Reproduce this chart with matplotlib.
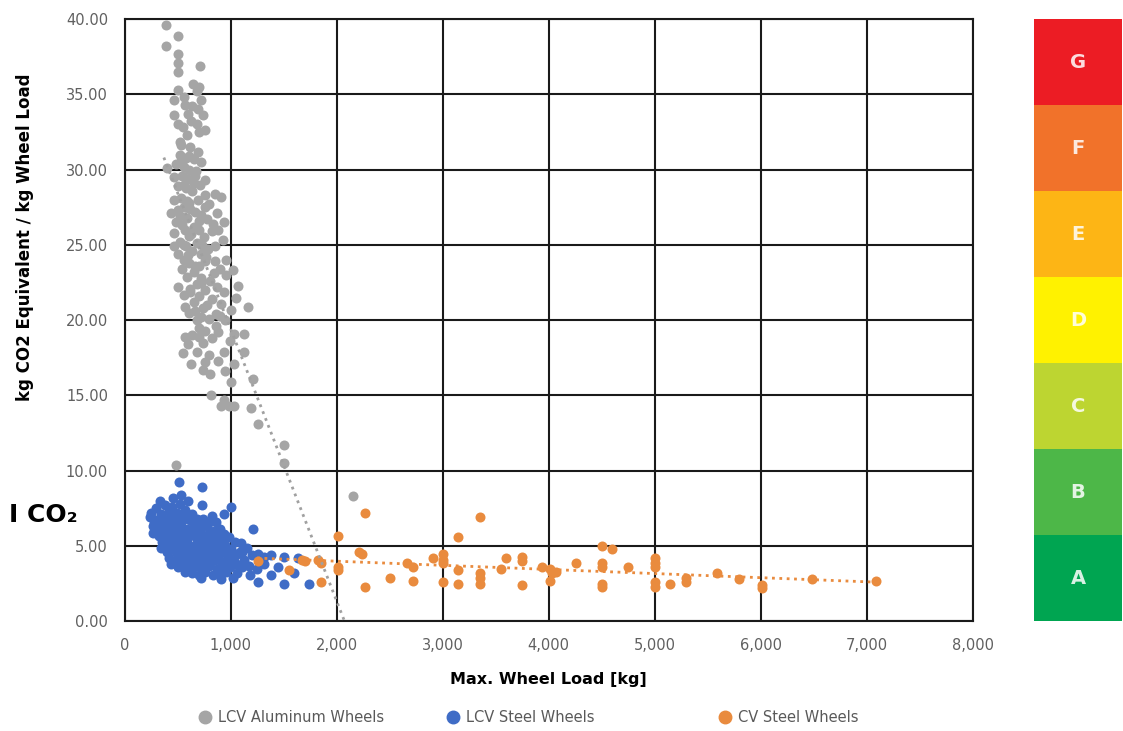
import matplotlib
matplotlib.use('Agg')
import matplotlib.pyplot as plt
from matplotlib.lines import Line2D
from matplotlib.ticker import FuncFormatter

# LCV aluminum wheels
alu_x = [390, 500, 390, 500, 500, 715, 500,
         645, 705, 680, 500, 470, 560, 720, 565, 640, 690, 470, 600, 735, 500, 630, 680, 555, 755,
         700, 590, 520, 535, 620, 690, 518, 580, 650, 480, 720, 400, 560, 610,
         470, 540, 600, 660, 755, 710, 500, 580, 640, 848, 910, 760, 470, 530, 690, 610, 800, 560,
         440, 500, 660, 720, 870, 590, 780, 940, 480, 540, 650, 700, 565, 820, 470, 610, 750, 925,
         520, 680, 850, 580, 470, 640, 720, 790, 502,
         848, 560, 610, 700, 760, 1020, 540, 650, 900, 960, 590, 720, 810, 680, 1068, 502, 620, 760,
         870, 940, 560, 700, 820, 650, 911, 1162, 565, 740, 1000, 610, 860, 722, 680, 800, 950,
         565, 700, 760, 1036, 1130, 640, 880, 820, 600, 740, 990, 942, 1130, 550, 680, 800, 628,
         1036, 880, 738, 801, 950, 1209, 1000, 816, 942, 911, 989, 1036, 1193,
         1256, 1507, 1507, 487, 2150,
         530, 610, 670, 560, 650, 590, 520, 620, 700, 760, 830, 560, 630, 730, 880, 600, 660, 770,
         960, 620, 720, 840, 1050, 660, 780, 900, 700, 860, 760]
alu_y = [39.6, 38.9, 38.2, 37.7, 37.1, 36.9, 36.5,
         35.7, 35.5, 35.2, 35.3, 34.6, 34.8, 34.6, 34.3, 34.2, 34.0, 33.6, 33.7, 33.6, 33.0, 33.2, 33.0, 32.8, 32.6,
         32.5, 32.3, 31.8, 31.6, 31.5, 31.2, 31.0, 30.8, 30.7, 30.4, 30.5, 30.1, 30.2, 30.0,
         29.5, 29.6, 29.4, 29.6, 29.3, 29.0, 28.9, 28.8, 28.6, 28.4, 28.2, 28.3, 28.0, 28.1, 28.0, 27.8, 27.7, 27.5,
         27.1, 27.3, 27.2, 27.0, 27.1, 26.8, 26.7, 26.5, 26.5, 26.3, 26.2, 26.0, 26.0, 25.9, 25.8, 25.6, 25.5, 25.3,
         25.2, 25.1, 24.9, 24.9, 24.9, 24.6, 24.4, 24.7, 24.4,
         23.9, 24.0, 23.8, 23.6, 23.9, 23.3, 23.4, 23.2, 23.4, 23.0, 22.9, 22.8, 22.6, 22.4, 22.3, 22.2, 22.1, 22.0,
         22.2, 21.9, 21.7, 21.6, 21.4, 21.2, 21.1, 20.9, 20.9, 20.8, 20.7, 20.5, 20.4, 20.2, 20.0, 20.1, 20.0,
         18.9, 19.5, 19.3, 19.1, 19.1, 19.0, 19.2, 18.8, 18.4, 18.5, 18.6, 17.9, 17.9, 17.8, 17.9, 17.7, 17.1,
         17.1, 17.3, 16.7, 16.4, 16.6, 16.1, 15.9, 15.0, 14.7, 14.3, 14.3, 14.3, 14.2,
         13.1, 11.7, 10.5, 10.4, 8.3,
         30.6, 30.9, 29.9, 29.0, 29.1, 27.9, 26.9, 27.4, 26.6, 27.5, 26.4, 25.0, 25.7, 25.0, 26.0, 24.3, 23.6, 24.2,
         24.0, 21.9, 22.5, 23.1, 21.5, 20.6, 21.0, 20.3, 18.9, 19.6, 17.2]

# LCV steel wheels
lcv_x = [509, 729, 534, 330, 460, 600,
         300, 380, 450, 520, 729, 1005, 250, 340, 420, 490, 570, 640, 942, 820,
         236, 300, 360, 430, 500, 560, 620, 680, 740, 860, 270, 330, 400, 460, 530, 590, 650, 710, 780, 900, 1209, 840,
         267, 320, 380, 440, 500, 560, 620, 680, 740, 800, 860, 920, 980, 1040, 350, 410, 470, 530, 590, 650, 710,
         770, 830, 890, 950, 1099, 1150,
         345, 400, 460, 520, 580, 640, 700, 760, 820, 880, 940, 1000, 1060, 1130, 1200, 1256, 1319, 1382, 1507, 1633,
         420, 480, 540, 600, 660, 720, 780, 850, 910, 970, 1030,
         440, 500, 560, 620, 680, 740, 800, 870, 930, 990, 1050, 1110, 1170, 1319, 1250, 565, 640, 700, 760, 830,
         900, 960, 1060, 1180, 1382, 1450,
         722, 911, 1020, 1256, 1507, 1743, 1600,
         280, 350, 410, 470, 540, 610, 680, 300, 370, 440, 510, 580, 650, 720, 790, 380, 450, 520, 590, 660,
         730, 800, 870, 940, 480, 550, 620, 690, 760, 830, 900, 970, 1090, 530, 600, 670, 740, 810, 1000, 1110,
         600, 670, 740, 810]
lcv_y = [9.25, 8.9, 8.4, 8.0, 8.2, 8.0,
         7.5, 7.7, 7.6, 7.8, 7.7, 7.6, 7.2, 7.1, 7.3, 7.2, 7.4, 7.1, 7.1, 7.0,
         6.9, 6.7, 6.8, 6.9, 6.6, 6.8, 6.7, 6.5, 6.8, 6.6, 6.3, 6.2, 6.4, 6.2, 6.3, 6.1, 6.2, 6.0, 6.3, 6.1, 6.1, 6.0,
         5.9, 5.7, 5.8, 5.6, 5.9, 5.6, 5.8, 5.5, 5.7, 5.5, 5.8, 5.4, 5.6, 5.3, 5.3, 5.1, 5.3, 5.1, 5.3, 5.0, 5.2,
         5.0, 5.2, 5.0, 5.1, 5.2, 4.9,
         4.9, 4.6, 4.8, 4.5, 4.7, 4.4, 4.6, 4.3, 4.7, 4.4, 4.6, 4.3, 4.5, 4.1, 4.4, 4.5, 4.3, 4.4, 4.3, 4.2,
         4.2, 4.1, 4.0, 4.2, 4.0, 4.1, 4.0, 4.1, 4.0, 4.1, 4.0,
         3.8, 3.6, 3.7, 3.5, 3.7, 3.5, 3.7, 3.5, 3.7, 3.6, 3.8, 3.6, 3.7, 3.8, 3.5, 3.3, 3.2, 3.1, 3.3, 3.1,
         3.2, 3.3, 3.2, 3.1, 3.1, 3.6,
         2.9, 2.8, 2.9, 2.6, 2.5, 2.5, 3.2,
         6.5, 6.5, 6.6, 6.7, 7.0, 6.9, 6.8, 6.0, 6.0, 6.1, 6.0, 6.0, 6.5, 6.3, 6.5, 5.4, 5.5, 5.4, 5.5, 5.7,
         5.5, 5.9, 5.4, 5.8, 4.6, 4.8, 4.8, 4.9, 4.8, 4.6, 4.8, 4.7, 4.6, 4.3, 4.5, 4.3, 4.5, 4.4, 4.8, 4.6,
         3.9, 3.8, 3.9, 3.9]

# CV steel wheels
cv_x = [1256, 1555, 1670, 1700, 1821, 1855, 1855, 2010, 2010, 2010, 2215, 2240, 2265, 2265, 2500, 2660, 2720,
        2720, 2905, 3000, 3000, 3000, 3000, 3150, 3150, 3150, 3350, 3350, 3350, 3350, 3555, 3600, 3750,
        3750, 3750, 3940, 4010, 4030, 4070, 4010, 4260, 4500, 4600, 4500, 4500, 4500, 4500, 4745, 5005,
        5005, 5005, 5005, 5005, 5150, 5300, 5300, 5590, 5800, 6010, 6010, 6490, 7090]
cv_y = [4.0, 3.4, 4.1, 4.0, 4.1, 3.9, 2.6, 5.7, 3.6, 3.4, 4.6, 4.5, 7.2, 2.3, 2.9, 3.85, 3.6,
        2.7, 4.2, 4.5, 4.1, 3.9, 2.6, 5.6, 3.4, 2.5, 6.9, 3.2, 2.9, 2.5, 3.5, 4.2, 4.3,
        4.0, 2.4, 3.6, 3.5, 3.2, 3.3, 2.7, 3.9, 5.0, 4.8, 3.9, 3.6, 2.5, 2.3, 3.6, 4.2,
        3.9, 3.6, 2.6, 2.3, 2.5, 2.9, 2.6, 3.2, 2.8, 2.4, 2.2, 2.8, 2.7]

# trend lines (end points)
alu_trend_x = [370, 2075]
alu_trend_y = [30.8, 0.0]
cv_trend_x = [1250, 7100]
cv_trend_y = [4.2, 2.6]

yticks = [0, 5, 10, 15, 20, 25, 30, 35, 40]
xticks = [0, 1000, 2000, 3000, 4000, 5000, 6000, 7000, 8000]

grades = ['A', 'B', 'C', 'D', 'E', 'F', 'G']
grade_colors = ['#00A551', '#4DB748', '#BDD531', '#FFF200', '#FDB515', '#F1722A', '#EC1C24']

GRAY = '#A5A5A5'
BLUE = '#3F6CC6'
ORANGE = '#E98B3E'
TICK = '#606060'

fig = plt.figure(figsize=(11.23, 7.31), dpi=100)
ax = fig.add_axes([0.111, 0.150, 0.755, 0.824])

ax.scatter(alu_x, alu_y, s=52, color=GRAY, linewidths=0, zorder=3)
ax.scatter(lcv_x, lcv_y, s=52, color=BLUE, linewidths=0, zorder=4)
ax.scatter(cv_x, cv_y, s=52, color=ORANGE, linewidths=0, zorder=5)
ax.plot(alu_trend_x, alu_trend_y, linestyle=':', color='#A0A0A0', lw=2, zorder=6)
ax.plot(cv_trend_x, cv_trend_y, linestyle=':', color=ORANGE, lw=2, zorder=6)

ax.set_xlim(0, 8000)
ax.set_ylim(0, 40)
ax.set_xticks(xticks)
ax.set_yticks(yticks)
ax.xaxis.set_major_formatter(FuncFormatter(lambda v, p: f'{int(v):,}'))
ax.yaxis.set_major_formatter(FuncFormatter(lambda v, p: f'{v:.2f}'))
ax.tick_params(length=0, labelsize=10.5, labelcolor=TICK)
ax.tick_params(axis='y', pad=12)
ax.tick_params(axis='x', pad=12)
ax.grid(True, color='#1a1a1a', lw=1.5, zorder=1)
for sp in ax.spines.values():
    sp.set_color('#1a1a1a')
    sp.set_linewidth(1.5)

ax.set_xlabel('Max. Wheel Load [kg]', fontsize=11.5, fontweight='bold', labelpad=14)
fig.text(0.022, 0.675, 'kg CO2 Equivalent / kg Wheel Load', rotation=90, fontsize=12,
         fontweight='bold', ha='center', va='center')
fig.text(0.008, 0.295, 'I CO₂', fontsize=18, fontweight='bold', ha='left', va='center')

# legend: one entry per box so each can sit where the reference has it
legend_labels = ['LCV Aluminum Wheels', 'LCV Steel Wheels', 'CV Steel Wheels']
legend_colors = [GRAY, BLUE, ORANGE]
legend_x = [0.176, 0.397, 0.639]
for lab, col, lx in zip(legend_labels, legend_colors, legend_x):
    h = Line2D([], [], marker='o', ls='', color=col, markersize=9)
    leg = fig.legend([h], [lab], loc='center left', bbox_to_anchor=(lx, 0.018),
                     frameon=False, fontsize=10.5, handlelength=1, handletextpad=0.4,
                     borderpad=0, borderaxespad=0)
    for t in leg.get_texts():
        t.set_color('#595959')

# energy-label style scale on the right
axr = fig.add_axes([0.921, 0.150, 0.078, 0.824])
axr.bar([0] * len(grades), [1] * len(grades), bottom=list(range(len(grades))),
        color=grade_colors, width=1.0, align='edge')
for i, g in enumerate(grades):
    axr.text(0.5, i + 0.5, g, ha='center', va='center', fontsize=14, fontweight='bold',
             color='white', alpha=0.85)
axr.set_xlim(0, 1)
axr.set_ylim(0, len(grades))
axr.axis('off')

fig.savefig('out.png', dpi=100)
